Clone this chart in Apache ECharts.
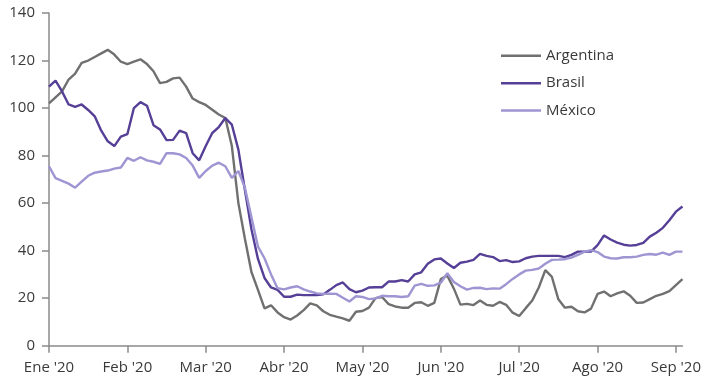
<!DOCTYPE html>
<html>
<head>
<meta charset="utf-8">
<script src="https://cdn.jsdelivr.net/npm/echarts@6/dist/echarts.min.js"></script>
<style>
html,body{margin:0;padding:0;background:#fff;}
#chart{width:704px;height:385px;}
</style>
</head>
<body>
<div id="chart"></div>
<script>
const monthLabels = ["Ene '20", "Feb '20", "Mar '20", "Abr '20", "May '20", "Jun '20", "Jul '20", "Ago '20", "Sep '20"];
const pointsPerMonth = 12;
const yTicks = [0, 20, 40, 60, 80, 100, 120, 140];

const argentina = [
  102, 104.5, 107, 112, 114.5, 119, 120, 121.5, 123, 124.5, 122.5, 119.5,
  118.5, 119.5, 120.5, 118.5, 115.5, 110.5, 111, 112.5, 112.8, 109, 104, 102.5,
  101.3, 99.3, 97.3, 95.8, 84, 60, 45, 31, 23.5, 15.7, 17, 14,
  12, 11, 12.7, 15, 17.8, 17, 14.5, 13, 12.2, 11.5, 10.5, 14.3,
  14.6, 16, 20, 20.5, 17.5, 16.5, 16, 16, 18, 18.3, 16.8, 18,
  28, 29.5, 24, 17.3, 17.6, 17.1, 19, 17.2, 16.8, 18.4, 17.2, 13.9,
  12.5, 15.8, 19, 24.5, 31.8, 29, 19.5, 16, 16.4, 14.5, 14, 15.6,
  21.8, 22.8, 20.8, 22, 22.9, 21, 18, 18.2, 19.6, 21, 21.8, 23,
  25.5, 28
];
const brasil = [
  109, 111.5, 107, 101.5, 100.5, 101.5, 99.2, 96.5, 90.5, 86, 84, 88,
  89, 100, 102.5, 101, 92.8, 91, 86.5, 86.6, 90.5, 89.5, 81, 78,
  84, 89.5, 92, 95.8, 93, 82.5, 65.5, 49, 36.5, 28.5, 24.5, 23.5,
  20.6, 20.6, 21.5, 21.3, 21.3, 21.3, 21.6, 23.5, 25.5, 26.6, 23.8, 22.5,
  23.2, 24.5, 24.6, 24.6, 27, 27, 27.6, 27, 30, 30.9, 34.5, 36.3,
  36.7, 34.6, 32.7, 34.9, 35.4, 36.1, 38.6, 37.8, 37.3, 35.6, 36, 35.2,
  35.5, 36.8, 37.5, 37.8, 37.8, 37.8, 37.8, 37.3, 38.2, 39.6, 39.6, 39.6,
  42.3, 46.4, 44.7, 43.4, 42.5, 42.1, 42.4, 43.3, 45.9, 47.5, 49.6, 52.8,
  56.4, 58.6
];
const mexico = [
  75.5, 70.5, 69.4, 68.2, 66.5, 69, 71.5, 72.8, 73.3, 73.7, 74.5, 75,
  79, 77.8, 79.3, 78, 77.4, 76.5, 81, 81, 80.5, 79, 75.8, 70.6,
  73.5, 75.8, 77, 75.5, 70.6, 73.5, 66.5, 54, 41.7, 36.8, 30, 24.2,
  23.7, 24.5, 25, 23.7, 22.8, 22, 21.8, 21.9, 21.8, 20.2, 18.6, 20.8,
  20.5, 19.6, 19.9, 21, 20.8, 20.8, 20.5, 20.8, 25.3, 26, 25.2, 25.4,
  26.5, 30.5, 26.8, 25, 23.6, 24.3, 24.4, 23.8, 24.1, 24, 25.9, 28.1,
  30, 31.6, 31.9, 32.5, 34.5, 36.1, 36.2, 36.4, 37.1, 38.2, 39.6, 40.2,
  39.4, 37.5, 36.8, 36.7, 37.2, 37.2, 37.5, 38.2, 38.6, 38.3, 39.2, 38.2,
  39.6, 39.6
];

const seriesNames = ['Argentina', 'Brasil', 'México'];
const seriesColors = ['#6f706f', '#563f96', '#9e95d3'];
const seriesData = [argentina, brasil, mexico];

const categories = argentina.map((_, i) => monthLabels[Math.floor(i / pointsPerMonth)] + ' #' + (i % pointsPerMonth + 1));

const textColor = '#3a3a3a';
const axisColor = '#8a8a8a';
const fontFamily = '"Open Sans", "DejaVu Sans", sans-serif';

const chart = echarts.init(document.getElementById('chart'), null, { renderer: 'canvas' });
chart.setOption({
  animation: false,
  backgroundColor: '#ffffff',
  grid: { left: 49, right: 19, top: 13, bottom: 39.3 },
  legend: {
    orient: 'vertical',
    left: 496,
    top: 43.3,
    icon: 'rect',
    itemWidth: 40,
    itemHeight: 2.5,
    itemGap: 12.4,
    data: seriesNames,
    textStyle: { color: textColor, fontSize: 15, fontFamily: fontFamily }
  },
  xAxis: {
    type: 'category',
    data: categories,
    boundaryGap: false,
    axisLine: { show: true, lineStyle: { color: axisColor, width: 1.5 } },
    axisTick: { show: true, interval: pointsPerMonth - 1, length: 7, lineStyle: { color: axisColor, width: 1.5 } },
    axisLabel: {
      interval: pointsPerMonth - 1,
      margin: 15,
      color: textColor,
      fontSize: 15,
      fontFamily: fontFamily,
      formatter: (val, idx) => monthLabels[Math.floor(idx / pointsPerMonth)]
    },
    splitLine: { show: false }
  },
  yAxis: {
    type: 'value',
    min: yTicks[0],
    max: yTicks[yTicks.length - 1],
    interval: yTicks[1] - yTicks[0],
    axisLine: { show: true, lineStyle: { color: axisColor, width: 1.5 } },
    axisTick: { show: true, length: 7, lineStyle: { color: axisColor, width: 1.5 } },
    axisLabel: { margin: 14, color: textColor, fontSize: 15, fontFamily: fontFamily },
    splitLine: { show: false }
  },
  series: seriesNames.map((name, k) => ({
    name: name,
    type: 'line',
    data: seriesData[k],
    symbol: 'none',
    smooth: false,
    color: seriesColors[k],
    lineStyle: { color: seriesColors[k], width: 2.4 }
  }))
});
</script>
</body>
</html>
